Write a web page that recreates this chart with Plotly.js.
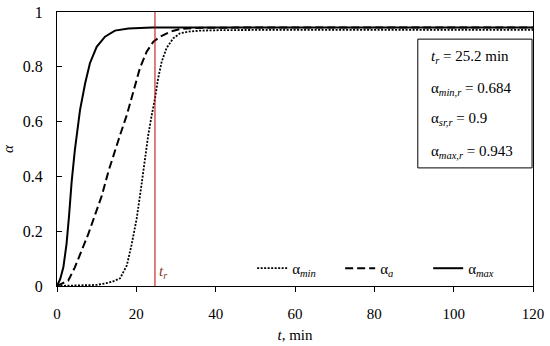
<!DOCTYPE html>
<html>
<head>
<meta charset="utf-8">
<script src="https://cdn.plot.ly/plotly-3.0.1.min.js"></script>
<style>html,body{margin:0;padding:0;background:#fff;}</style>
</head>
<body>
<div id="chart" style="width:550px;height:346px;"></div>
<script>
// Data
const tMax = [0, 0.3, 0.8, 1.6, 2.4, 3.0, 3.7, 4.5, 5.8, 7.1, 8.3, 10, 12.1, 14.6, 18, 24, 40, 120];
const alphaMax = [0, 0.008, 0.025, 0.068, 0.153, 0.25, 0.382, 0.496, 0.642, 0.74, 0.813, 0.873, 0.91, 0.932, 0.94, 0.943, 0.943, 0.943];

const tA = [0, 1, 2.85, 4.5, 6.2, 7.9, 9.6, 11.3, 13, 14.6, 15.9, 17.6, 19.2, 20.9, 22.6, 24.3, 26, 28.5, 31, 35, 45, 120];
const alphaA = [0, 0.006, 0.02, 0.068, 0.129, 0.19, 0.26, 0.33, 0.42, 0.496, 0.551, 0.624, 0.709, 0.795, 0.855, 0.892, 0.91, 0.928, 0.938, 0.942, 0.943, 0.943];

const tMin = [0, 5, 10, 12, 14, 15.9, 17.6, 18.8, 20.1, 21.3, 22.2, 23, 23.9, 24.7, 25.5, 26.4, 27.6, 29.3, 31, 33, 36, 42, 60, 120];
const alphaMin = [0, 0.002, 0.004, 0.009, 0.016, 0.028, 0.075, 0.15, 0.247, 0.369, 0.466, 0.551, 0.625, 0.684, 0.758, 0.819, 0.868, 0.904, 0.922, 0.928, 0.932, 0.934, 0.935, 0.935];

const tr = 24.7; // position of the red vertical line
const boxLines = [
  "<i>t<sub>r</sub></i> = 25.2 min",
  "α<sub><i>min,r</i></sub> = 0.684",
  "α<sub><i>sr,r</i></sub> = 0.9",
  "α<sub><i>max,r</i></sub> = 0.943"
];
const seriesNames = ["α<sub><i>min</i></sub>", "α<sub><i>a</i></sub>", "α<sub><i>max</i></sub>"];

const FONT = "Liberation Serif, DejaVu Serif, serif";

const traces = [
  {x: tMin, y: alphaMin, name: seriesNames[0], mode: "lines", line: {color: "#000", width: 1.8, dash: "2px,1.5px"}},
  {x: tA, y: alphaA, name: seriesNames[1], mode: "lines", line: {color: "#000", width: 2, dash: "8px,4px"}},
  {x: tMax, y: alphaMax, name: seriesNames[2], mode: "lines", line: {color: "#000", width: 2}}
];

const boxY = [0.836, 0.719, 0.609, 0.489];
const annotations = boxLines.map((txt, i) => ({
  text: txt, xref: "paper", yref: "paper", x: 0.782, y: boxY[i],
  xanchor: "left", yanchor: "middle", showarrow: false,
  font: {family: FONT, size: 15, color: "#000"}
}));
annotations.push({
  text: "<i>t<sub>r</sub></i>", xref: "x", yref: "paper", x: tr, y: 0.05,
  xanchor: "left", yanchor: "middle", xshift: 2, showarrow: false,
  font: {family: FONT, size: 15, color: "#8b3a2a"}
});

const layout = {
  width: 550, height: 346,
  margin: {l: 57, r: 17, t: 12, b: 60},
  paper_bgcolor: "#fff", plot_bgcolor: "#fff",
  font: {family: FONT, size: 15, color: "#000"},
  showlegend: true,
  legend: {
    orientation: "h", x: 0.41, y: 0.064, xanchor: "left", yanchor: "middle",
    entrywidth: 43, entrywidthmode: "pixels",
    bgcolor: "rgba(0,0,0,0)", font: {family: FONT, size: 15, color: "#000"}
  },
  xaxis: {
    range: [0, 120], dtick: 20, tick0: 0,
    showline: true, mirror: true, linecolor: "#000", linewidth: 1,
    ticks: "outside", ticklen: 5, tickcolor: "#000",
    showgrid: false, zeroline: false, ticklabelstandoff: 9,
    tickfont: {family: FONT, size: 15, color: "#000"},
    title: {text: "<i>t</i>, min", font: {family: FONT, size: 15, color: "#000"}, standoff: 8}
  },
  yaxis: {
    range: [0, 1], dtick: 0.2, tick0: 0,
    showline: true, mirror: true, linecolor: "#000", linewidth: 1,
    ticks: "inside", ticklen: 5, tickcolor: "#000",
    showgrid: false, zeroline: false, ticklabelstandoff: 10,
    tickfont: {family: FONT, size: 16, color: "#000"},
    title: {text: "<i>α</i>", font: {family: FONT, size: 15, color: "#000"}, standoff: 8}
  },
  shapes: [
    {type: "line", xref: "x", yref: "paper", x0: tr, x1: tr, y0: 0, y1: 1,
     line: {color: "#c00000", width: 1}},
    {type: "rect", xref: "paper", yref: "paper", x0: 0.758, x1: 0.998, y0: 0.431, y1: 0.901,
     line: {color: "#000", width: 1}, fillcolor: "rgba(0,0,0,0)"}
  ],
  annotations: annotations
};

Plotly.newPlot("chart", traces, layout, {staticPlot: true, displayModeBar: false});
</script>
</body>
</html>
